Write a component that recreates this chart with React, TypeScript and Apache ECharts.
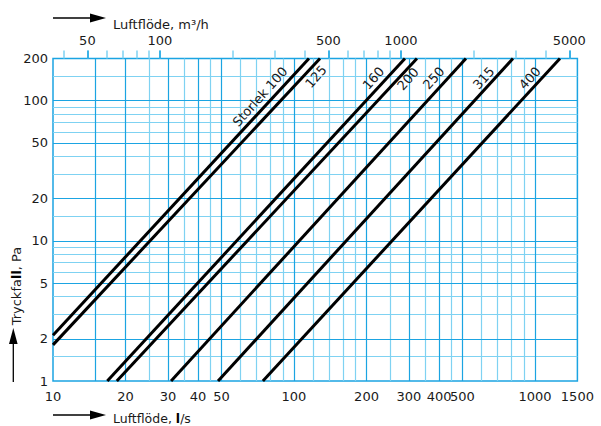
import React, { useEffect, useRef } from "react";
import * as echarts from "echarts";

// Duct sizes (curve labels)
const sizes = ["Storlek 100", "125", "160", "200", "250", "315", "400"];
// Each curve read at its two ends: flow (l/s) and pressure drop (Pa)
const flowStart = [10, 10, 16.8, 18.4, 30.9, 48.4, 74.3];
const dropStart = [2.12, 1.81, 1, 1, 1, 1, 1];
const flowEnd = [115.4, 128.2, 288.8, 323.8, 517.2, 810.4, 1269.7];
const dropEnd = [200, 200, 200, 200, 200, 200, 200];
// Where each curve's label sits (flow l/s, drop Pa)
const labelFlow = [72.3, 123.4, 213.8, 297.2, 380, 612, 952];
const labelDrop = [106.8, 148.4, 144.8, 143, 145, 145, 145];

// Axes
const flowMin = 10;
const flowMax = 1500;
const dropMin = 1;
const dropMax = 200;
const LS_TO_M3H = 3.6;
const flowLabels = [10, 20, 30, 40, 50, 100, 200, 300, 400, 500, 1000, 1500];
const flowGridMajor = [15, 20, 30, 40, 50, 100, 200, 300, 400, 500, 1000];
const flowGridMinor = [25, 35, 45, 60, 70, 80, 90, 120, 140, 160, 180, 250, 350, 450, 600, 700, 800, 900];
const m3hTicks = [40, 50, 60, 70, 80, 90, 100, 200, 300, 400, 500, 600, 700, 800, 900, 1000, 2000, 3000, 4000, 5000];
const m3hLabels = [50, 100, 500, 1000, 5000];
const dropLabels = [1, 2, 5, 10, 20, 50, 100, 200];
const dropGridMajor = [2, 5, 10, 20, 50, 100];
const dropGridMinor = [1.5, 3, 4, 6, 7, 8, 9, 15, 30, 40, 60, 70, 80, 90, 150];

const BLUE = "#1ba4e2";
const LIGHT = "#7fd2f2";
const FONT = "DejaVu Sans";
const TEXT = "#1a1a1a";

export default function App() {
  const ref = useRef<HTMLDivElement>(null);
  useEffect(() => {
    if (!ref.current) return;
    const chart = echarts.init(ref.current, null, { renderer: "svg" });

    const gridLines = (vals: number[], axis: "xAxis" | "yAxis", color: string) =>
      vals.map((v) => ({ [axis]: v, lineStyle: { color, width: 1.2, type: "solid" } }));

    const curveSeries = sizes.map((name, i) => ({
      type: "line",
      name,
      xAxisIndex: 0,
      yAxisIndex: 0,
      symbol: "none",
      silent: true,
      z: 5,
      lineStyle: { color: "#000", width: 3 },
      data: [
        [flowStart[i], dropStart[i]],
        [flowEnd[i], dropEnd[i]],
      ],
      markPoint: {
        symbol: "circle",
        symbolSize: 0,
        silent: true,
        data: [{ coord: [labelFlow[i], labelDrop[i]] }],
        label: {
          show: true,
          position: "inside",
          formatter: name,
          rotate: 48,
          color: TEXT,
          fontSize: 13,
          fontFamily: FONT,
        },
      },
    }));

    const topAxisBase = {
      type: "log",
      logBase: 10,
      min: flowMin * LS_TO_M3H,
      max: flowMax * LS_TO_M3H,
      position: "top",
      axisLine: { show: false },
      splitLine: { show: false },
    };

    const option: any = {
      animation: false,
      grid: {
        left: 53,
        right: 23.6,
        top: 58.5,
        bottom: 45,
        show: true,
        borderColor: BLUE,
        borderWidth: 1.5,
        backgroundColor: "transparent",
      },
      xAxis: [
        {
          type: "log",
          logBase: 10,
          min: flowMin,
          max: flowMax,
          position: "bottom",
          axisLine: { show: false },
          axisTick: { show: false },
          splitLine: { show: false },
          axisLabel: {
            customValues: flowLabels,
            formatter: (v: number) => String(Math.round(v)),
            margin: 9,
            color: TEXT,
            fontSize: 13,
            fontFamily: FONT,
          },
        },
        {
          ...topAxisBase,
          axisTick: {
            show: true,
            customValues: m3hTicks,
            length: 8,
            lineStyle: { color: LIGHT, width: 1.5 },
          },
          axisLabel: {
            customValues: m3hLabels,
            formatter: (v: number) => String(Math.round(v)),
            margin: 12,
            color: TEXT,
            fontSize: 13,
            fontFamily: FONT,
          },
        },
        {
          ...topAxisBase,
          axisTick: {
            show: true,
            customValues: m3hLabels,
            length: 8,
            lineStyle: { color: BLUE, width: 1.5 },
          },
          axisLabel: { show: false },
        },
      ],
      yAxis: [
        {
          type: "log",
          logBase: 10,
          min: dropMin,
          max: dropMax,
          axisLine: { show: false },
          axisTick: { show: false },
          splitLine: { show: false },
          axisLabel: {
            customValues: dropLabels,
            formatter: (v: number) => String(Math.round(v)),
            margin: 5,
            color: TEXT,
            fontSize: 13,
            fontFamily: FONT,
          },
        },
      ],
      series: [
        {
          type: "line",
          xAxisIndex: 0,
          yAxisIndex: 0,
          data: [],
          silent: true,
          z: 1,
          markLine: {
            silent: true,
            symbol: "none",
            label: { show: false },
            data: [
              ...gridLines(flowGridMinor, "xAxis", LIGHT),
              ...gridLines(dropGridMinor, "yAxis", LIGHT),
              ...gridLines(flowGridMajor, "xAxis", BLUE),
              ...gridLines(dropGridMajor, "yAxis", BLUE),
            ],
          },
        },
        ...curveSeries,
      ],
      graphic: [
        { type: "line", shape: { x1: 53, y1: 18, x2: 93, y2: 18 }, style: { stroke: "#000", lineWidth: 1.3 } },
        { type: "polygon", shape: { points: [[90, 13.5], [106, 18], [90, 22.5]] }, style: { fill: "#000" } },
        {
          type: "text",
          x: 113,
          y: 24,
          style: {
            text: "Luftflöde, m³/h",
            fill: TEXT,
            font: `13px "${FONT}"`,
            verticalAlign: "middle",
            align: "left",
          },
        },
        { type: "line", shape: { x1: 53, y1: 415, x2: 93, y2: 415 }, style: { stroke: "#000", lineWidth: 1.3 } },
        { type: "polygon", shape: { points: [[90, 410.5], [106, 415], [90, 419.5]] }, style: { fill: "#000" } },
        {
          type: "text",
          x: 113,
          y: 418.5,
          style: {
            text: "{a|Luftflöde, }{b|l}{a|/s}",
            verticalAlign: "middle",
            align: "left",
            rich: {
              a: { fill: TEXT, fontSize: 12.5, fontFamily: FONT, lineHeight: 13 },
              b: { fill: "#000", fontSize: 12.5, fontFamily: FONT, fontWeight: "bold", lineHeight: 13 },
            },
          },
        },
        { type: "line", shape: { x1: 13.3, y1: 382, x2: 13.3, y2: 340 }, style: { stroke: "#000", lineWidth: 1.3 } },
        { type: "polygon", shape: { points: [[9, 344], [13.3, 328], [17.6, 344]] }, style: { fill: "#000" } },
        {
          type: "text",
          x: 16,
          y: 286,
          rotation: Math.PI / 2,
          style: {
            text: "{a|Tryckfa}{b|ll}{a|, Pa}",
            verticalAlign: "middle",
            align: "center",
            rich: {
              a: { fill: TEXT, fontSize: 13, fontFamily: FONT },
              b: { fill: "#000", fontSize: 13, fontFamily: FONT, fontWeight: "bold" },
            },
          },
        },
      ],
    };

    chart.setOption(option);
    return () => chart.dispose();
  }, []);

  return (
    <div
      ref={ref}
      style={{ position: "fixed", left: 0, top: 0, width: 601, height: 426, background: "#fff" }}
    />
  );
}
